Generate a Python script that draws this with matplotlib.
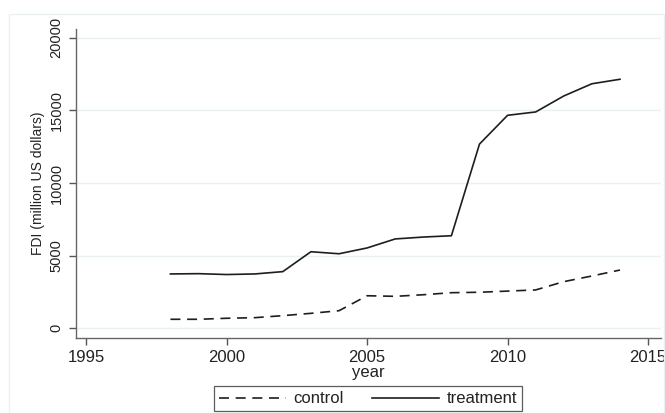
import matplotlib
matplotlib.use('Agg')
import matplotlib.pyplot as plt
from matplotlib.patches import Rectangle

# dades llegides del grafic (milions de dolars)
years = list(range(1998, 2015))
treatment = [3740, 3760, 3700, 3740, 3900, 5270, 5130, 5530, 6150, 6280,
             6370, 12680, 14660, 14890, 15990, 16830, 17140]
control = [620, 620, 690, 730, 870, 1030, 1210, 2240, 2200, 2310,
           2450, 2480, 2560, 2640, 3210, 3600, 4010]

x_ticks = [1995, 2000, 2005, 2010, 2015]
y_ticks = [0, 5000, 10000, 15000, 20000]

TEXT = '#222222'
GRID = '#eaf1f2'
LINE = '#1e1e1e'

plt.rcParams['font.family'] = ['Liberation Sans', 'DejaVu Sans']
plt.rcParams['font.size'] = 10

fig = plt.figure(figsize=(6.65, 4.13), dpi=100)

# marc clar exterior (estil Stata)
fig.patches.append(Rectangle((0.0135, -0.02), 0.985, 0.986, transform=fig.transFigure,
                             fill=False, edgecolor=GRID, linewidth=1.0))

ax = fig.add_axes([0.1143, 0.1816, 0.8797, 0.7482])

ax.plot(years, control, color=LINE, linewidth=1.2, dashes=(6, 4), label='control')
ax.plot(years, treatment, color=LINE, linewidth=1.2, label='treatment')

ax.set_xlim(1994.64, 2015.46)
ax.set_ylim(-668, 20600)
ax.set_xticks(x_ticks)
ax.set_xticklabels([str(v) for v in x_ticks], fontsize=12)
ax.set_yticks(y_ticks)
ax.set_yticklabels([str(v) for v in y_ticks], rotation=90, va='center', fontsize=10.5)

ax.grid(True, axis='y', color=GRID, linewidth=1.0)
ax.set_axisbelow(True)

for side in ['top', 'right']:
    ax.spines[side].set_visible(False)
for side in ['left', 'bottom']:
    ax.spines[side].set_color('#666666')
    ax.spines[side].set_linewidth(1.0)

ax.tick_params(axis='both', colors='#555555', labelcolor=TEXT, length=5, width=1.0)
ax.tick_params(axis='x', pad=4)
ax.tick_params(axis='y', pad=4)

ax.set_xlabel('year', color=TEXT, labelpad=0, fontsize=12)
ax.set_ylabel('FDI (million US dollars)', color=TEXT, labelpad=3, fontsize=10)

leg = fig.legend(loc='center', bbox_to_anchor=(0.5534, 0.0339), ncol=2,
                 frameon=True, fancybox=False, handlelength=4.0,
                 handletextpad=0.45, columnspacing=1.7, borderpad=0.3,
                 fontsize=12)
leg.get_frame().set_edgecolor('#333333')
leg.get_frame().set_linewidth(0.9)
for t in leg.get_texts():
    t.set_color(TEXT)

fig.savefig('out.png', dpi=100)
